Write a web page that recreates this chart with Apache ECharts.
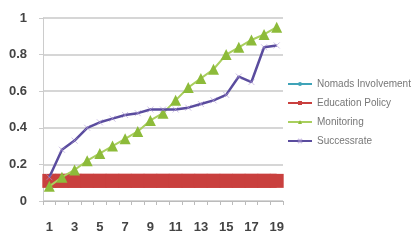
<!DOCTYPE html>
<html>
<head>
<meta charset="utf-8">
<script src="https://cdn.jsdelivr.net/npm/echarts@6/dist/echarts.min.js"></script>
<style>
  html, body { margin: 0; padding: 0; background: #fff; }
  #main { width: 411px; height: 241px; }
</style>
</head>
<body>
<div id="main"></div>
<script>
var categories = ['1','2','3','4','5','6','7','8','9','10','11','12','13','14','15','16','17','18','19'];
var nomads = [0.11,0.11,0.11,0.11,0.11,0.11,0.11,0.11,0.11,0.11,0.11,0.11,0.11,0.11,0.11,0.11,0.11,0.11,0.11];
var education = [0.11,0.11,0.11,0.11,0.11,0.11,0.11,0.11,0.11,0.11,0.11,0.11,0.11,0.11,0.11,0.11,0.11,0.11,0.11];
var monitoring = [0.08,0.13,0.17,0.22,0.26,0.30,0.34,0.38,0.44,0.48,0.55,0.62,0.67,0.72,0.80,0.84,0.88,0.91,0.95];
var successrate = [0.13,0.28,0.33,0.40,0.43,0.45,0.47,0.48,0.50,0.50,0.50,0.51,0.53,0.55,0.58,0.68,0.65,0.84,0.85];

var myChart = echarts.init(document.getElementById('main'));

var crossPath = 'path://M0,0L10,10M10,0L0,10';

var option = {
  animation: false,
  textStyle: { fontFamily: 'Liberation Sans, Arial, sans-serif' },
  grid: { left: 43, right: 128, top: 18, bottom: 40 },
  legend: {
    orient: 'vertical',
    left: 282,
    top: 74,
    itemWidth: 24,
    itemHeight: 5,
    itemGap: 9,
    textStyle: { fontSize: 10, color: '#777' },
    data: ['Nomads Involvement', 'Education Policy', 'Monitoring', 'Successrate']
  },
  xAxis: {
    type: 'category',
    data: categories,
    boundaryGap: true,
    axisLine: { lineStyle: { color: '#bbb', width: 1 } },
    axisTick: { show: true, length: 4, interval: 0, lineStyle: { color: '#bbb' } },
    axisLabel: { interval: 1, margin: 20, fontSize: 13, fontWeight: 'bold', color: '#444' }
  },
  yAxis: {
    type: 'value',
    min: 0,
    max: 1,
    interval: 0.2,
    axisLine: { show: true, lineStyle: { color: '#ccc' } },
    axisTick: { show: true, length: 4, lineStyle: { color: '#ccc' } },
    splitLine: { lineStyle: { color: '#c8c8c8', width: 1.5 } },
    axisLabel: { margin: 16, fontSize: 13, fontWeight: 'bold', color: '#444' }
  },
  series: [
    {
      name: 'Nomads Involvement',
      type: 'line',
      data: nomads,
      color: '#3fa3b8',
      symbol: 'circle',
      symbolSize: 5,
      showAllSymbol: true,
      lineStyle: { width: 2 },
      z: 1
    },
    {
      name: 'Education Policy',
      type: 'line',
      data: education,
      color: '#c9403e',
      symbol: 'rect',
      symbolSize: 14,
      showAllSymbol: true,
      lineStyle: { width: 14, color: '#c9403e' },
      z: 2
    },
    {
      name: 'Monitoring',
      type: 'line',
      data: monitoring,
      color: '#8dbb3a',
      symbol: 'triangle',
      symbolSize: 11,
      showAllSymbol: true,
      lineStyle: { width: 2, color: '#a9cf5e' },
      z: 3
    },
    {
      name: 'Successrate',
      type: 'line',
      data: successrate,
      color: '#5a4c9e',
      symbol: crossPath,
      symbolSize: 6,
      showAllSymbol: true,
      itemStyle: { color: 'none', borderColor: 'rgba(170,150,210,0.6)', borderWidth: 1 },
      lineStyle: { width: 2.5, color: '#5a4c9e' },
      z: 4
    }
  ]
};

myChart.setOption(option);
</script>
</body>
</html>
